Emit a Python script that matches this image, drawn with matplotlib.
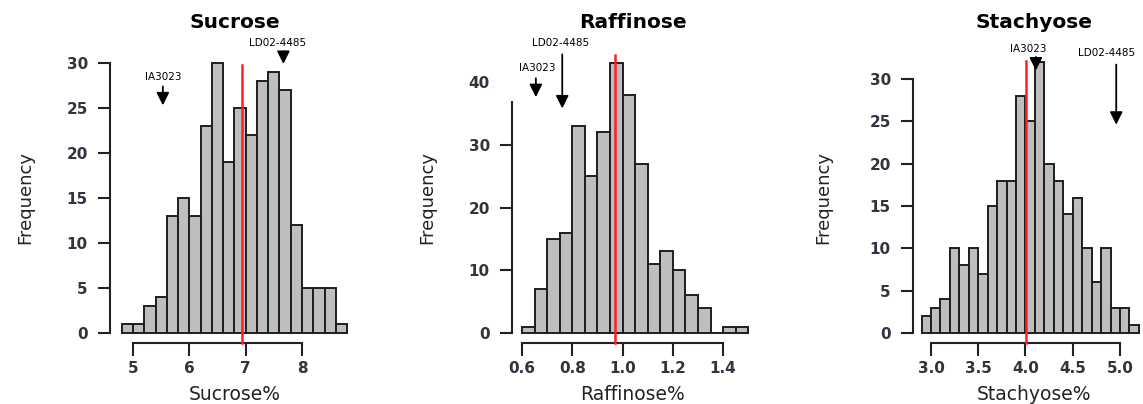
import numpy as np
import matplotlib
matplotlib.use('Agg')
import matplotlib.pyplot as plt

plt.rcParams['font.family'] = ['DejaVu Sans']

# histogram counts
sucrose_start, sucrose_width = 4.8, 0.2
sucrose_counts = [1, 1, 3, 4, 13, 15, 13, 23, 30, 19, 25, 22, 28, 29, 27, 12, 5, 5, 5, 1]
sucrose_mean = 6.93

raffinose_start, raffinose_width = 0.6, 0.05
raffinose_counts = [1, 7, 15, 16, 33, 25, 32, 43, 38, 27, 11, 13, 10, 6, 4, 0, 1, 1]
raffinose_mean = 0.97

stachyose_start, stachyose_width = 2.9, 0.1
stachyose_counts = [2, 3, 4, 10, 8, 10, 7, 15, 18, 18, 28, 25, 32, 20, 18, 14, 16, 10, 6, 10, 3, 3, 1]
stachyose_mean = 4.01

# parent lines: value marked by the arrows
sucrose_parents = {'IA3023': 5.53, 'LD02-4485': 7.67}
raffinose_parents = {'IA3023': 0.655, 'LD02-4485': 0.76}
stachyose_parents = {'IA3023': 4.11, 'LD02-4485': 4.96}

sucrose_xticks = [5, 6, 7, 8]
raffinose_xticks = [0.6, 0.8, 1.0, 1.2, 1.4]
stachyose_xticks = [3.0, 3.5, 4.0, 4.5, 5.0]
sucrose_yticks = [0, 5, 10, 15, 20, 25, 30]
raffinose_yticks = [0, 10, 20, 30, 40]
stachyose_yticks = [0, 5, 10, 15, 20, 25, 30]

W, H = 1143, 404
fig = plt.figure(figsize=(W / 100, H / 100), dpi=100)
fig.patch.set_facecolor('white')

TICKCOL = '#333340'


def px_axes(left, bottom, right, top):
    '''axes from pixel box (top-left origin)'''
    return fig.add_axes([left / W, 1 - bottom / H, (right - left) / W, (bottom - top) / H])


def panel(box, xlim, ylim, start, width, counts, mean, red_y, xticks, xfmt, yticks,
          ybound, title, xlabel, title_x, ylab_x, arrows, hide_top_tick=False):
    ax = px_axes(*box)
    ax.set_facecolor('none')
    edges = start + width * np.arange(len(counts))
    ax.bar(edges, counts, width=width, align='edge', color='#bebebe',
           edgecolor='#1e1e1e', linewidth=1.4, zorder=2)
    ax.plot([mean, mean], red_y, color='#ff2020', lw=1.8, zorder=3, clip_on=False)
    ax.set_xlim(*xlim)
    ax.set_ylim(*ylim)
    for s in ['top', 'right']:
        ax.spines[s].set_visible(False)
    ax.spines['left'].set_bounds(*ybound)
    ax.spines['bottom'].set_bounds(xticks[0], xticks[-1])
    for s in ['left', 'bottom']:
        ax.spines[s].set_linewidth(1.5)
        ax.spines[s].set_color('#222222')
    ax.set_xticks(xticks)
    ax.set_xticklabels([xfmt.format(t) for t in xticks])
    ax.set_yticks(yticks)
    ax.tick_params(length=9, width=1.5, color='#222222', labelsize=11,
                   labelcolor=TICKCOL)
    ax.tick_params(axis='x', pad=4)
    ax.tick_params(axis='y', pad=7)
    for lab in ax.get_xticklabels() + ax.get_yticklabels():
        lab.set_fontweight('bold')
    if hide_top_tick:
        ax.yaxis.get_major_ticks()[-1].tick1line.set_visible(False)
    # title / labels placed by pixel
    fig.text(title_x / W, 1 - 22 / H, title, ha='center', va='center',
             fontsize=14.5, fontweight='bold')
    fig.text(title_x / W, 1 - 394 / H, xlabel, ha='center', va='center',
             fontsize=13.5, color='#222222')
    fig.text(ylab_x / W, 1 - 197 / H, 'Frequency', ha='center', va='center',
             rotation=90, fontsize=13, color='#222222')
    # parent arrows
    for name, (x, tail, tip, tx, ty, ha) in arrows.items():
        ax.annotate('', xy=(x, tip), xytext=(x, tail), annotation_clip=False,
                    arrowprops=dict(arrowstyle='-|>', color='black', lw=1.3,
                                    mutation_scale=19, shrinkA=0, shrinkB=0))
        ax.text(tx, ty, name, ha=ha, va='center', fontsize=7.5, clip_on=False)
    return ax


# Sucrose
panel((110, 343, 360, 40), (4.592, 9.03), (-1.11, 32.56),
      sucrose_start, sucrose_width, sucrose_counts, sucrose_mean, [-1.1, 29.8],
      sucrose_xticks, '{:g}', sucrose_yticks, (0, 30),
      'Sucrose', 'Sucrose%', 235, 25,
      {'IA3023': (sucrose_parents['IA3023'], 27.4, 25.3, 5.53, 28.5, 'center'),
       'LD02-4485': (sucrose_parents['LD02-4485'], 31.3, 29.9, 7.57, 32.2, 'center')})

# Raffinose
panel((512, 343, 760, 40), (0.560, 1.547), (-1.59, 46.7),
      raffinose_start, raffinose_width, raffinose_counts, raffinose_mean, [-1.6, 44.3],
      raffinose_xticks, '{:.1f}', raffinose_yticks, (0, 36.8),
      'Raffinose', 'Raffinose%', 633, 427,
      {'IA3023': (raffinose_parents['IA3023'], 40.6, 37.6, 0.66, 42.2, 'center'),
       'LD02-4485': (raffinose_parents['LD02-4485'], 44.4, 35.8, 0.752, 46.2, 'center')},
      hide_top_tick=True)

# Stachyose (cut at right edge as in the original)
panel((913, 343, 1160, 40), (2.810, 5.423), (-1.18, 34.6),
      stachyose_start, stachyose_width, stachyose_counts, stachyose_mean, [-1.2, 32.1],
      stachyose_xticks, '{:.1f}', stachyose_yticks, (0, 30),
      'Stachyose', 'Stachyose%', 1034, 823,
      {'IA3023': (stachyose_parents['IA3023'], 32.6, 31.0, 4.03, 33.5, 'center'),
       'LD02-4485': (stachyose_parents['LD02-4485'], 31.7, 24.6, 4.555, 33.1, 'left')})

plt.savefig('out.png', dpi=100)
plt.close()
